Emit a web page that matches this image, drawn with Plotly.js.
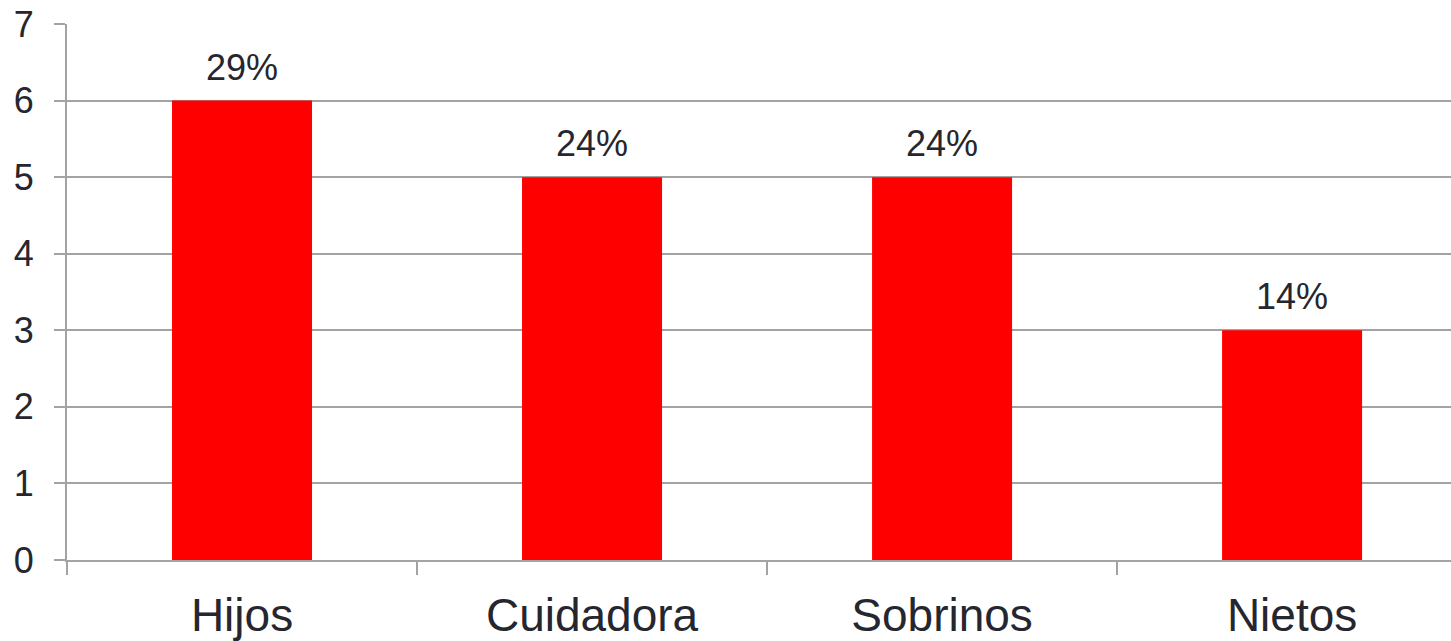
<!DOCTYPE html>
<html>
<head>
<meta charset="utf-8">
<script src="https://cdn.plot.ly/plotly-3.0.1.min.js"></script>
<style>html,body{margin:0;padding:0;background:#fff;overflow:hidden}</style>
</head>
<body>
<div id="chart" style="width:1451px;height:641px"></div>
<script>
const categories = ["Hijos", "Cuidadora", "Sobrinos", "Nietos"];
const values = [6, 5, 5, 3];
const percentLabels = ["29%", "24%", "24%", "14%"];

const textColor = "#26262e";
const gridColor = "#a3a3a3";

const trace = {
  type: "bar",
  x: categories,
  y: values,
  width: 0.4,
  marker: {color: "#ff0000"},
  hoverinfo: "skip"
};

const annotations = categories.map((c, i) => ({
  x: c, y: values[i], xref: "x", yref: "y",
  text: percentLabels[i], showarrow: false,
  yanchor: "bottom", yshift: 11,
  font: {family: "Liberation Sans, Arial, sans-serif", size: 36, color: textColor}
}));

const layout = {
  width: 1451, height: 641,
  margin: {l: 67, r: 0, t: 24, b: 81, pad: 0},
  paper_bgcolor: "#fff", plot_bgcolor: "#fff",
  showlegend: false,
  bargap: 0.6,
  font: {family: "Liberation Sans, Arial, sans-serif", color: textColor},
  xaxis: {
    type: "category",
    range: [-0.5, 3.454],
    showgrid: false, zeroline: false,
    showline: true, linecolor: gridColor, linewidth: 2,
    ticks: "outside", tickson: "boundaries", ticklen: 13, tickwidth: 2, tickcolor: gridColor,
    ticklabelstandoff: 14,
    tickfont: {size: 46, color: textColor},
    fixedrange: true
  },
  yaxis: {
    range: [0, 7], dtick: 1, tick0: 0,
    showgrid: true, gridcolor: gridColor, gridwidth: 2,
    zeroline: false,
    showline: true, linecolor: gridColor, linewidth: 2,
    ticks: "outside", ticklen: 11, tickwidth: 2, tickcolor: gridColor,
    ticklabelstandoff: 13,
    tickfont: {size: 36, color: textColor},
    fixedrange: true
  },
  annotations: annotations
};

Plotly.newPlot("chart", [trace], layout, {displayModeBar: false, staticPlot: true});
</script>
</body>
</html>
